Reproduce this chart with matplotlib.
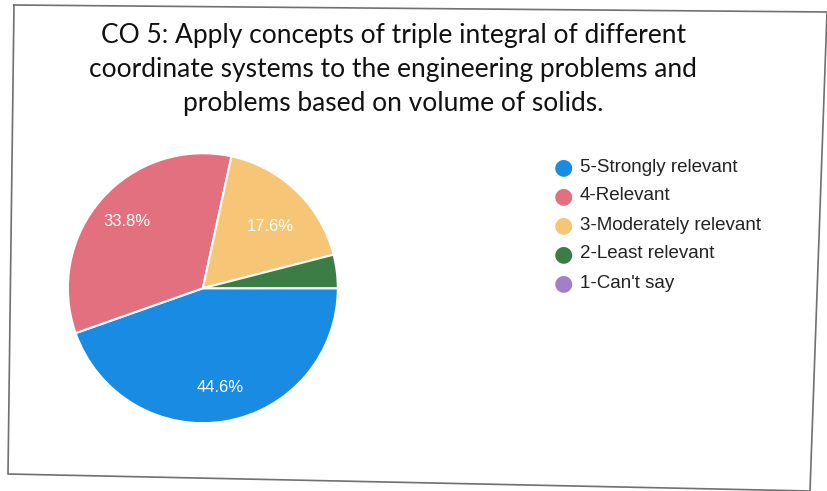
import matplotlib.pyplot as plt
from matplotlib.lines import Line2D

# survey responses, percent of students
labels = ["5-Strongly relevant", "4-Relevant", "3-Moderately relevant",
          "2-Least relevant", "1-Can't say"]
shares = [44.6, 33.8, 17.6, 4.0, 0.0]
colors = ["#1a8be3", "#e2707f", "#f6c676", "#3c7d46", "#a27fc9"]

title = ("CO 5: Apply concepts of triple integral of different\n"
         "coordinate systems to the engineering problems and\n"
         "problems based on volume of solids.")

W, H = 828, 491
fig = plt.figure(figsize=(W / 100, H / 100), dpi=100)

# scanned card border (pixel corners, slightly skewed)
bx = [14, 827, 810, 8, 14]
by = [5, 12, 491, 474, 5]
fig.add_artist(Line2D([x / W for x in bx], [1 - y / H for y in by],
                      transform=fig.transFigure, color="#707070", lw=1.2))

fig.text(0.475, 1 - 23 / H, title, ha="center", va="top", fontsize=19,
         family="Lato", linespacing=1.45, color="#111111")

ax = fig.add_axes([0.082, 0.138, 0.326, 0.55])
vals = [v for v in shares if v > 0]
cols = colors[:len(vals)]


def pct(p):
    return f"{p:.1f}%" if p >= 5 else ""


wedges, _, autotexts = ax.pie(vals, colors=cols, startangle=0, counterclock=False,
                              autopct=pct, pctdistance=0.75,
                              wedgeprops=dict(edgecolor="white", linewidth=1.5),
                              textprops=dict(color="white", fontsize=12,
                                             family="Liberation Sans"))
# nudge the yellow slice label down a bit
x, y = autotexts[2].get_position()
autotexts[2].set_position((x - 0.02, y - 0.08))
ax.set_xlim(-1, 1)
ax.set_ylim(-1, 1)
ax.set_aspect("equal")

# legend as coloured dots with labels
for i, (lab, c) in enumerate(zip(labels, colors)):
    y = 1 - (167 + 29 * i) / H
    fig.text(563 / W, y, "\u25CF", color=c, fontsize=16, ha="center", va="center",
             family="DejaVu Sans")
    fig.text(580 / W, y, lab, color="#222222", fontsize=13.5, ha="left", va="center",
             family="Liberation Sans")

fig.savefig("out.png", dpi=100)
